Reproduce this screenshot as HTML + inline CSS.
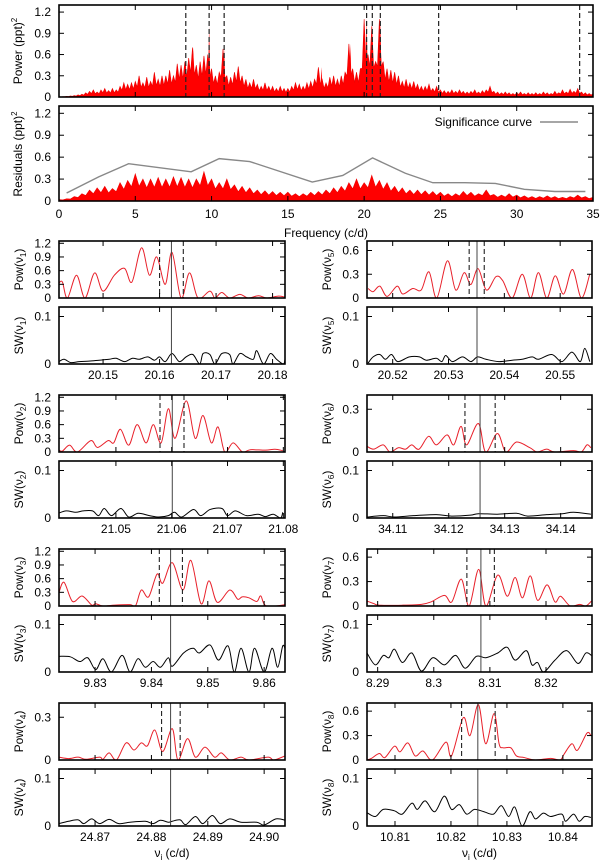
<!DOCTYPE html>
<html><head><meta charset="utf-8">
<style>
html,body{margin:0;padding:0;background:#fff;}
svg{display:block;font-family:"Liberation Sans",sans-serif;}
</style></head>
<body>
<svg id="fig" width="600" height="862" viewBox="0 0 600 862" xmlns="http://www.w3.org/2000/svg"></svg>
<script>
// ===== Top panel data =====
const specStep = 0.25;
const powerEnv = [0,.005,.01,.015,.02,.03,.04,.06,.08,.1,.07,.1,.12,.09,.12,.1,.15,.2,.18,.2,.22,.3,.2,.28,.22,.35,.25,.3,.3,.38,.3,.47,.45,.5,.55,.7,.45,.5,.58,.6,.4,.3,.35,.68,.3,.28,.35,.43,.3,.25,.2,.25,.18,.15,.2,.15,.15,.12,.15,.12,.12,.15,.2,.18,.15,.2,.22,.25,.42,.25,.2,.28,.3,.25,.3,.35,.75,.4,.35,.4,1.1,.6,1.0,.5,1.1,.5,.4,.38,.35,.3,.22,.25,.2,.22,.18,.15,.15,.18,.12,.15,.1,.09,.08,.1,.08,.1,.08,.07,.08,.1,.07,.09,.1,.15,.08,.07,.06,.07,.06,.05,.06,.07,.05,.06,.05,.06,.05,.07,.06,.05,.08,.06,.1,.07,.11,.08,.12,.07,.06,.05,.05];
const peakFreqs = [8.31,8.8,9.84,10.825,17.2,19.1,20.162,20.535,21.06];
const peakPows = [0.5,0.7,1.0,0.68,0.42,0.75,1.12,1.0,1.12];
const modeFreqs = [8.31,9.84,10.825,20.162,20.535,21.06,24.883,34.125];
const residStep = 0.5;
const residEnv = [.02,.03,.06,.1,.15,.18,.2,.17,.25,.28,.37,.3,.3,.32,.3,.33,.32,.3,.3,.4,.3,.25,.3,.22,.2,.18,.15,.14,.13,.12,.12,.1,.1,.12,.13,.15,.18,.2,.25,.3,.25,.35,.28,.25,.2,.18,.15,.15,.14,.13,.12,.1,.1,.13,.12,.1,.15,.09,.08,.1,.08,.07,.06,.06,.07,.06,.05,.06,.08,.06,.05];
const sigFreqs = [0.5,2.6,4.56,8.66,10.5,12.5,16.6,18.6,20.55,22.7,24.5,26.6,28.6,30.5,32.5,34.5];
const sigVals = [.11,.33,.51,.40,.58,.54,.26,.35,.59,.38,.25,.25,.24,.16,.13,.13];
const topXTicks = [0,5,10,15,20,25,30,35];
const topYTicks = [0,0.3,0.6,0.9,1.2];

// ===== Zoom panels data =====
const v1PowF = [20.1422,20.1428,20.1437,20.1453,20.1468,20.1485,20.1500,20.1520,20.1538,20.1551,20.1568,20.1582,20.1595,20.1610,20.1622,20.1638,20.1653,20.1668,20.1689,20.1698,20.1710,20.1724,20.1742,20.1757,20.1775,20.1790,20.1810,20.1822];
const v1PowY = [.33,.35,0,.5,0,.55,.15,.5,.65,.35,1.1,.5,.9,.3,1.0,0,.55,0,.15,0,.12,0,.08,0,.05,0,.04,.02];
const v1SwF = [20.1422,20.1431,20.1443,20.1458,20.1475,20.1493,20.1511,20.1523,20.1538,20.1552,20.1564,20.1579,20.1591,20.1600,20.1610,20.1622,20.1635,20.1647,20.1659,20.1671,20.1677,20.1689,20.1698,20.1710,20.1724,20.1730,20.1742,20.1754,20.1766,20.1772,20.1784,20.1796,20.1807,20.1819,20.1822];
const v1SwY = [.005,.01,.003,.005,.006,.008,.01,.012,.005,.012,.01,.015,.008,.015,.005,.022,.005,.015,.02,0,.022,.02,0,.022,.02,0,.022,.015,.01,.028,0,.022,.01,0,.01];

const v5PowF = [20.5156,20.5165,20.5177,20.5190,20.5208,20.5218,20.5236,20.5251,20.5265,20.5279,20.5298,20.5313,20.5328,20.5340,20.5353,20.5368,20.5385,20.5397,20.5414,20.5432,20.5447,20.5461,20.5476,20.5491,20.5506,20.5522,20.5538,20.5553];
const v5PowY = [.12,.08,.15,.02,.15,.05,.12,.1,.33,0,.47,.1,.32,.17,.37,.1,.27,.22,0,.3,0,.32,0,.28,.05,.36,0,.3];
const v5SwF = [20.5156,20.5165,20.5177,20.5187,20.5198,20.5209,20.5230,20.5248,20.5260,20.5278,20.5288,20.5295,20.5307,20.5325,20.5340,20.5352,20.5367,20.5390,20.5414,20.5432,20.5450,20.5461,20.5485,20.5503,20.5521,20.5536,20.5544,20.5553];
const v5SwY = [.002,.015,.02,.01,.02,.005,.015,.015,.008,.012,.005,.018,.005,.015,.005,.015,.01,.005,.008,.01,.015,.01,.02,.005,.025,.005,.033,.005];

const v2PowF = [21.0397,21.0404,21.0417,21.0431,21.0455,21.0467,21.0486,21.0496,21.0508,21.0523,21.0538,21.0554,21.0567,21.0581,21.0594,21.0606,21.0626,21.0642,21.0656,21.0671,21.0683,21.0695,21.0710,21.0727,21.0741,21.0768,21.0785,21.0799];
const v2PowY = [.05,.02,.15,0,.25,.1,.25,.2,.5,.15,.6,.2,.6,.2,.95,.3,1.12,.3,.8,.2,.55,0,.2,0,.05,.04,.06,.03];
const v2SwF = [21.0397,21.0411,21.0428,21.0441,21.0458,21.0469,21.0479,21.0492,21.0509,21.0523,21.0540,21.0560,21.0577,21.0594,21.0605,21.0618,21.0639,21.0652,21.0669,21.0690,21.0700,21.0714,21.0734,21.0755,21.0768,21.0782,21.0795,21.0799];
const v2SwY = [.01,.015,.012,.015,.015,.005,.02,.005,.02,.002,.01,.005,.002,.005,.012,.002,.018,.005,.018,.02,.005,.015,.005,.008,.003,.008,0,.012];

const v6PowF = [34.1054,34.1066,34.1083,34.1095,34.1110,34.1123,34.1134,34.1147,34.1164,34.1178,34.1197,34.1209,34.1222,34.1232,34.1253,34.1266,34.1287,34.1302,34.1321,34.1345,34.1358,34.1375,34.1389,34.1423,34.1437,34.1447,34.1454];
const v6PowY = [.04,.02,.05,0,.03,.02,.05,.02,.11,.05,.12,.05,.18,.05,.2,0,.13,0,.07,.03,0,.02,0,.01,0,.05,.03];
const v6SwF = [34.1054,34.1083,34.1103,34.1137,34.1178,34.1205,34.1239,34.1253,34.1287,34.1321,34.1341,34.1375,34.1403,34.1423,34.1454];
const v6SwY = [.002,.005,.002,.005,.007,.004,.006,.009,.008,.01,.004,.007,.009,.012,.008];

const v3PowF = [9.8236,9.8245,9.8260,9.8277,9.8294,9.8301,9.8314,9.8335,9.8362,9.8372,9.8382,9.8395,9.8410,9.8420,9.8437,9.8456,9.8470,9.8488,9.8502,9.8517,9.8539,9.8553,9.8561,9.8573,9.8587,9.8594,9.8604,9.8638];
const v3PowY = [.3,.52,.1,.22,.02,.05,0,.02,.03,.01,.35,.2,.7,.5,.95,.35,1.0,.05,.55,.08,.35,.15,.2,.18,.1,.22,0,.03];
const v3SwF = [9.8236,9.8256,9.8273,9.8287,9.8301,9.8314,9.8329,9.8348,9.8362,9.8376,9.8389,9.8403,9.8416,9.8430,9.8437,9.8457,9.8474,9.8485,9.8504,9.8519,9.8536,9.8547,9.8559,9.8573,9.8583,9.8600,9.8614,9.8624,9.8633,9.8638];
const v3SwY = [.033,.032,.022,.03,.005,.028,0,.035,0,.028,.01,.022,.01,.03,.012,.04,.05,.04,.057,.025,.055,0,.05,0,.05,0,.05,.01,.055,.045];

const v7PowF = [8.2881,8.2893,8.2903,8.2944,8.2978,8.2995,8.3019,8.3032,8.3049,8.3063,8.3080,8.3093,8.3114,8.3131,8.3145,8.3158,8.3172,8.3185,8.3202,8.3216,8.3226,8.3243,8.3260,8.3271,8.3281];
const v7PowY = [.06,.03,.01,.01,.02,.05,.13,.05,.33,0,.45,0,.38,.12,.35,.1,.37,.07,.26,.05,.12,0,.02,0,.06];
const v7SwF = [8.2881,8.2896,8.2910,8.2920,8.2930,8.2944,8.2961,8.2978,8.2998,8.3019,8.3039,8.3056,8.3076,8.3093,8.3114,8.3131,8.3145,8.3165,8.3175,8.3185,8.3196,8.3216,8.3237,8.3257,8.3271,8.3281];
const v7SwY = [.04,.015,.035,.03,.048,.02,.04,.002,.03,.015,.035,.008,.033,.03,.04,.052,.025,.045,.015,.02,0,.025,.045,.018,.04,.035];

const v4PowF = [24.8636,24.8653,24.8670,24.8684,24.8708,24.8714,24.8725,24.8738,24.8755,24.8769,24.8782,24.8793,24.8806,24.8820,24.8837,24.8847,24.8864,24.8878,24.8895,24.8912,24.8924,24.8939,24.8959,24.8973,24.9007,24.9017,24.9038];
const v4PowY = [.02,.01,.02,.005,.02,.005,.05,0,.12,.07,.12,.1,.21,.06,.22,0,.15,.02,.09,.02,.05,0,.02,0,.02,0,.03];
const v4SwF = [24.8636,24.8653,24.8670,24.8680,24.8694,24.8708,24.8725,24.8742,24.8762,24.8789,24.8803,24.8816,24.8830,24.8837,24.8851,24.8861,24.8878,24.8891,24.8908,24.8922,24.8939,24.8959,24.8987,24.9000,24.9021,24.9038];
const v4SwY = [.005,.01,.013,.005,.015,.005,.014,.005,.008,.01,.005,.012,.008,.01,.013,.003,.02,.005,.022,.005,.015,.008,.008,.002,.015,.012];

const v8PowF = [10.8050,10.8058,10.8072,10.8082,10.8099,10.8109,10.8123,10.8136,10.8150,10.8167,10.8191,10.8201,10.8222,10.8234,10.8249,10.8262,10.8277,10.8286,10.8293,10.8307,10.8317,10.8331,10.8351,10.8378,10.8395,10.8402,10.8416,10.8426,10.8443,10.8450];
const v8PowY = [0,.02,.08,.03,.17,.1,.21,.05,.11,0,.22,.05,.52,.3,.68,.2,.57,.2,.15,.15,.05,.03,0,.02,0,.07,.2,.12,.33,.3];
const v8SwF = [10.8050,10.8065,10.8079,10.8099,10.8113,10.8130,10.8140,10.8154,10.8171,10.8188,10.8201,10.8215,10.8228,10.8242,10.8259,10.8276,10.8290,10.8303,10.8314,10.8327,10.8341,10.8351,10.8365,10.8378,10.8398,10.8405,10.8419,10.8429,10.8439,10.8450];
const v8SwY = [.028,.02,.035,.032,.025,.048,.035,.053,.03,.063,.035,.045,.025,.035,.03,.025,.043,.02,.04,0,.03,.015,.027,.02,.025,.01,.025,.01,.02,.018];

const panelIds = ['1','5','2','6','3','7','4','8'];
const panelXMin = [20.1422,20.5154,21.0398,34.1054,9.8236,8.2881,24.8636,10.8050];
const panelXMax = [20.1822,20.5557,21.0803,34.1456,9.8637,8.3282,24.9037,10.8452];
const panelPowMax = [1.25,0.72,1.25,0.4,1.25,0.7,0.4,0.7];
const panelCenter = [20.1621,20.5351,21.0601,34.1256,9.8434,8.3084,24.8834,10.8248];
const panelDashL = [20.1600,20.5337,21.0579,34.1229,9.8414,8.3059,24.8818,10.8219];
const panelDashR = [20.1642,20.5364,21.0622,34.1283,9.8455,8.3108,24.8851,10.8279];
const panelXTicks = [[20.15,20.16,20.17,20.18],[20.52,20.53,20.54,20.55],[21.05,21.06,21.07,21.08],[34.11,34.12,34.13,34.14],[9.83,9.84,9.85,9.86],[8.29,8.30,8.31,8.32],[24.87,24.88,24.89,24.90],[10.81,10.82,10.83,10.84]];
const panelXTickLabels = [['20.15','20.16','20.17','20.18'],['20.52','20.53','20.54','20.55'],['21.05','21.06','21.07','21.08'],['34.11','34.12','34.13','34.14'],['9.83','9.84','9.85','9.86'],['8.29','8.3','8.31','8.32'],['24.87','24.88','24.89','24.90'],['10.81','10.82','10.83','10.84']];
const panelYTicks = [[0,0.3,0.6,0.9,1.2],[0,0.3,0.6],[0,0.3,0.6,0.9,1.2],[0,0.3],[0,0.3,0.6,0.9,1.2],[0,0.3,0.6],[0,0.3],[0,0.3,0.6]];
const powF = [v1PowF,v5PowF,v2PowF,v6PowF,v3PowF,v7PowF,v4PowF,v8PowF];
const powY = [v1PowY,v5PowY,v2PowY,v6PowY,v3PowY,v7PowY,v4PowY,v8PowY];
const swF = [v1SwF,v5SwF,v2SwF,v6SwF,v3SwF,v7SwF,v4SwF,v8SwF];
const swY = [v1SwY,v5SwY,v2SwY,v6SwY,v3SwY,v7SwY,v4SwY,v8SwY];
const swTicks = [0,0.1];

const NS = 'http://www.w3.org/2000/svg';
const svg = document.getElementById('fig');
function mk(tag, attrs, parent){
  const e = document.createElementNS(NS, tag);
  for (const k in attrs) e.setAttribute(k, attrs[k]);
  (parent||svg).appendChild(e);
  return e;
}
function lin(d0,d1,r0,r1){ return v => r0 + (v-d0)/(d1-d0)*(r1-r0); }
let clipN = 0;
function clip(x0,y0,x1,y1){
  const id = 'c'+(clipN++);
  const cp = mk('clipPath',{id:id});
  mk('rect',{x:x0,y:y0,width:x1-x0,height:y1-y0},cp);
  return 'url(#'+id+')';
}
function smoothPath(xs, ys){
  let d = 'M'+xs[0].toFixed(2)+','+ys[0].toFixed(2);
  for (let i=0;i<xs.length-1;i++){
    const x0=xs[Math.max(i-1,0)], y0=ys[Math.max(i-1,0)];
    const x1=xs[i], y1=ys[i], x2=xs[i+1], y2=ys[i+1];
    const x3=xs[Math.min(i+2,xs.length-1)], y3=ys[Math.min(i+2,xs.length-1)];
    const c1x=x1+(x2-x0)/6, c1y=y1+(y2-y0)/6, c2x=x2-(x3-x1)/6, c2y=y2-(y3-y1)/6;
    d += ' C'+c1x.toFixed(2)+','+c1y.toFixed(2)+' '+c2x.toFixed(2)+','+c2y.toFixed(2)+' '+x2.toFixed(2)+','+y2.toFixed(2);
  }
  return d;
}
function text(x,y,str,anchor,size,parent){
  const t = mk('text',{x:x,y:y,'text-anchor':anchor||'middle','font-size':size||11,fill:'#000'},parent);
  t.textContent = str;
  return t;
}
function frame(x0,y0,x1,y1,name){
  const r = mk('rect',{x:x0,y:y0,width:x1-x0,height:y1-y0,fill:'none',stroke:'#000','stroke-width':1.6});
  
  
}
function xticks(sx,vals,y0,y1){
  vals.forEach(v=>{
    const x=sx(v);
    mk('line',{x1:x,x2:x,y1:y1,y2:y1-5,stroke:'#000','stroke-width':1});
    mk('line',{x1:x,x2:x,y1:y0,y2:y0+5,stroke:'#000','stroke-width':1});
  });
}
function yticks(sy,vals,x0,x1,labelX,labels){
  vals.forEach((v,i)=>{
    const y=sy(v);
    mk('line',{x1:x0,x2:x0+5,y1:y,y2:y,stroke:'#000','stroke-width':1});
    mk('line',{x1:x1,x2:x1-5,y1:y,y2:y,stroke:'#000','stroke-width':1});
    const t=text(labelX,y+4,labels?labels[i]:String(v),'end',12);
    
    
  });
}
function ylabel(x,y,main,sub,sup){
  const t = mk('text',{x:0,y:0,'text-anchor':'middle','font-size':12,transform:'translate('+x+','+y+') rotate(-90)'});
  
  
  t.appendChild(document.createTextNode(main));
  if (sub){ const s=mk('tspan',{'font-size':8,dy:3},t); s.textContent=sub; const c=mk('tspan',{dy:-3},t); c.textContent=')'; }
  if (sup){ const s=mk('tspan',{'font-size':8,dy:-5},t); s.textContent=sup; }
}

// ===== Top panels =====
const TX0=59, TX1=593;
const tsx = lin(0,35,TX0,TX1);
// Power panel
(function(){
  const y0=5,y1=97, sy=lin(0,1.3,y1,y0);
  const cp = clip(TX0,y0,TX1,y1);
  const g = mk('g',{'clip-path':cp});
  
  
  let d='M'+tsx(0)+','+y1;
  powerEnv.forEach((v,i)=>{
    const f=i*specStep;
    d+=' L'+tsx(f).toFixed(2)+','+sy(v).toFixed(2);
    if (i<powerEnv.length-1){
      const m=(v+powerEnv[i+1])*0.27;
      d+=' L'+tsx(f+specStep/2).toFixed(2)+','+sy(m).toFixed(2);
    }
  });
  d+=' L'+tsx(35)+','+y1+' Z';
  const p=mk('path',{d:d,fill:'#f00',stroke:'#e00','stroke-width':0.6},g);
  
  
  peakFreqs.forEach((f,i)=>{
    const l=mk('path',{d:'M'+(tsx(f)-1.5)+','+y1+' L'+tsx(f)+','+sy(peakPows[i])+' L'+(tsx(f)+1.5)+','+y1+' Z',fill:'#f00'},g);
    
    
  });
  modeFreqs.forEach(f=>{
    const l=mk('line',{x1:tsx(f),x2:tsx(f),y1:y0,y2:y1,stroke:'#222','stroke-width':1.2,'stroke-dasharray':'5,3'});
    
    
  });
  frame(TX0,y0,TX1,y1,'power-panel-frame');
  xticks(tsx,topXTicks,y0,y1);
  yticks(sy,topYTicks,TX0,TX1,51);
  ylabel(22,51,'Power (ppt)',null,'2');
})();
// Residual panel
(function(){
  const y0=106,y1=201, sy=lin(0,1.3,y1,y0);
  const cp = clip(TX0,y0,TX1,y1);
  const g = mk('g',{'clip-path':cp});
  
  
  let d='M'+tsx(0)+','+y1;
  residEnv.forEach((v,i)=>{
    const f=i*residStep;
    d+=' L'+tsx(f).toFixed(2)+','+sy(v).toFixed(2);
    if (i<residEnv.length-1){
      const m=(v+residEnv[i+1])*0.3;
      d+=' L'+tsx(f+residStep/2).toFixed(2)+','+sy(m).toFixed(2);
    }
  });
  d+=' L'+tsx(35)+','+y1+' Z';
  const p=mk('path',{d:d,fill:'#f00',stroke:'#e00','stroke-width':0.6},g);
  
  
  const pts = sigFreqs.map((f,i)=>tsx(f).toFixed(2)+','+sy(sigVals[i]).toFixed(2)).join(' ');
  const pl=mk('polyline',{points:pts,fill:'none',stroke:'#888','stroke-width':1.4});
  
  
  const lt=text(532,126,'Significance curve','end',12);
  
  
  const ll=mk('line',{x1:540,x2:578,y1:122,y2:122,stroke:'#888','stroke-width':1.4});
  
  
  frame(TX0,y0,TX1,y1,'residual-panel-frame');
  xticks(tsx,topXTicks,y0,y1);
  yticks(sy,topYTicks,TX0,TX1,51);
  topXTicks.forEach(v=>{
    const t=text(tsx(v),218,String(v),'middle',12);
    
    
  });
  const xt=text(326,237,'Frequency (c/d)','middle',12);
  
  
  ylabel(22,154,'Residuals (ppt)',null,'2');
})();

// ===== Zoom panels =====
const colX = [[59,285],[367,592]];
const rowY = [241,395,549,703];
for (let k=0;k<8;k++){
  const col=k%2, row=Math.floor(k/2);
  const x0=colX[col][0], x1=colX[col][1];
  const py0=rowY[row], py1=py0+57, sy0=py0+66, sy1=py0+123;
  const sx=lin(panelXMin[k],panelXMax[k],x0,x1);
  const spy=lin(0,panelPowMax[k],py1,py0);
  const ssy=lin(0,0.12,sy1,sy0);
  const labX = x0-8;
  // Pow panel
  const g1=mk('g',{'clip-path':clip(x0,py0,x1,py1)});
  
  
  const c1=mk('path',{d:smoothPath(powF[k].map(sx),powY[k].map(spy)),fill:'none',stroke:'#e8202a','stroke-width':1},g1);
  
  
  [panelDashL[k],panelDashR[k]].forEach(f=>{
    const l=mk('line',{x1:sx(f),x2:sx(f),y1:py0,y2:py1,stroke:'#222','stroke-width':1.1,'stroke-dasharray':'5,3'},g1);
    
    
  });
  const cl=mk('line',{x1:sx(panelCenter[k]),x2:sx(panelCenter[k]),y1:py0,y2:py1,stroke:'#444','stroke-width':1},g1);
  
  
  frame(x0,py0,x1,py1,'pow-frame-v'+panelIds[k]);
  xticks(sx,panelXTicks[k],py0,py1);
  yticks(spy,panelYTicks[k],x0,x1,labX);
  ylabel(x0-36,(py0+py1)/2,'Pow(ν','ν'===''?null:panelIds[k]);
  // SW panel
  const g2=mk('g',{'clip-path':clip(x0,sy0,x1,sy1)});
  
  
  const c2=mk('path',{d:smoothPath(swF[k].map(sx),swY[k].map(ssy)),fill:'none',stroke:'#000','stroke-width':1},g2);
  
  
  const cl2=mk('line',{x1:sx(panelCenter[k]),x2:sx(panelCenter[k]),y1:sy0,y2:sy1,stroke:'#444','stroke-width':1},g2);
  
  
  frame(x0,sy0,x1,sy1,'sw-frame-v'+panelIds[k]);
  xticks(sx,panelXTicks[k],sy0,sy1);
  yticks(ssy,swTicks,x0,x1,labX,['0','0.1']);
  ylabel(x0-36,(sy0+sy1)/2,'SW(ν',panelIds[k]);
  panelXTicks[k].forEach((v,i)=>{
    const t=text(sx(v),sy1+15,panelXTickLabels[k][i],'middle',12);
    
    
  });
  if (row===3){
    const t=mk('text',{x:(x0+x1)/2,y:857,'text-anchor':'middle','font-size':12});
    
    
    t.appendChild(document.createTextNode('ν'));
    const s=mk('tspan',{'font-size':8,dy:3},t); s.textContent='i';
    const r=mk('tspan',{dy:-3},t); r.textContent=' (c/d)';
  }
}
</script>
</body></html>
